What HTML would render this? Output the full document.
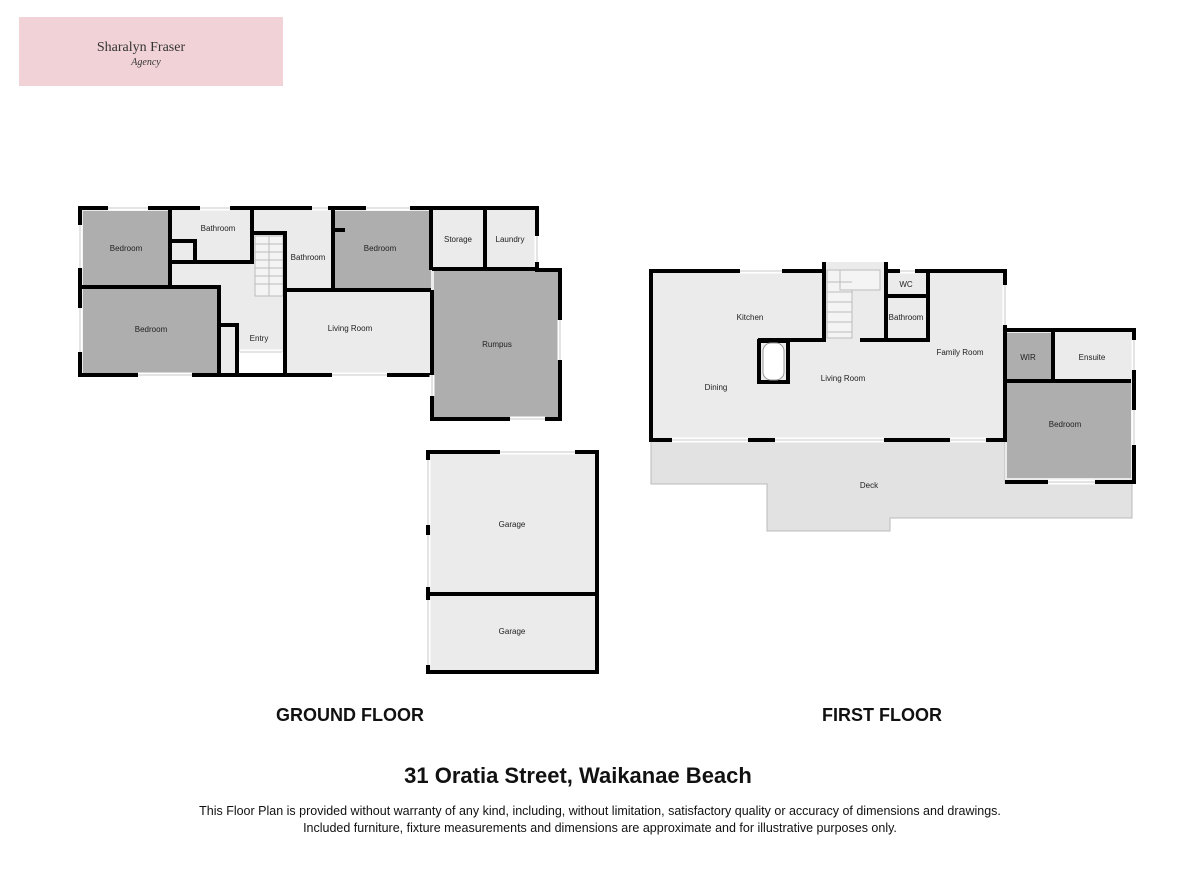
<!DOCTYPE html>
<html><head><meta charset="utf-8"><style>
html,body{margin:0;padding:0;background:#fff;width:1200px;height:873px;overflow:hidden}
svg{display:block}
.win{stroke:#fff;stroke-width:5}
.wl{stroke:#c8c8c8;stroke-width:1}
</style></head><body>
<svg width="1200" height="873" viewBox="0 0 1200 873" xmlns="http://www.w3.org/2000/svg" font-family="Liberation Sans, sans-serif">
<!-- logo -->
<rect x="19" y="17" width="264" height="69" fill="#f1d3d7"/>
<text x="141" y="51" font-family="Liberation Serif, serif" font-size="14" text-anchor="middle" fill="#333">Sharalyn Fraser</text>
<text x="146" y="65" font-family="Liberation Serif, serif" font-style="italic" font-size="10" text-anchor="middle" fill="#333">Agency</text>

<!-- GROUND FLOOR -->
<g>
<rect x="80" y="208" width="457" height="167" fill="#ebebeb"/>
<rect x="432" y="268" width="130" height="151" fill="#ebebeb"/>
<rect x="83" y="211" width="87" height="75" fill="#aeaeae"/>
<rect x="83" y="288" width="136" height="85" fill="#aeaeae"/>
<rect x="333" y="211" width="98" height="78" fill="#aeaeae"/>
<rect x="434" y="271" width="126" height="146" fill="#aeaeae"/>
<rect x="237" y="352" width="48" height="25" fill="#fff"/>
<g stroke="#bbb" stroke-width="1" fill="#f4f4f4">
<rect x="255" y="236" width="28" height="60"/>
<line x1="269" y1="236" x2="269" y2="296"/>
<line x1="255" y1="244" x2="283" y2="244"/><line x1="255" y1="252" x2="283" y2="252"/><line x1="255" y1="260" x2="283" y2="260"/><line x1="255" y1="268" x2="283" y2="268"/><line x1="255" y1="276" x2="283" y2="276"/><line x1="255" y1="284" x2="283" y2="284"/>
</g>
<g fill="none" stroke="#000" stroke-width="4">
<path d="M80,208 H537 V270 H560 V419 H432 V375 H80 Z"/>
<path d="M170,210 V286 M82,287 H219 V375 M219,325 H237 V375"/>
<path d="M170,262 H252 V210 M172,241 H195 V262"/>
<path d="M252,233 H285 V296 M285,290 H431 M333,210 V290 M333,211 V230 H345"/>
<path d="M431,210 V270 M432,269 H537 M485,210 V269"/>
<path d="M285,296 V375 M432,290 V419"/>
</g>
<g class="win">
<line x1="108" y1="208" x2="148" y2="208"/><line x1="200" y1="208" x2="230" y2="208"/><line x1="312" y1="208" x2="328" y2="208"/><line x1="366" y1="208" x2="410" y2="208"/>
<line x1="80" y1="225" x2="80" y2="268"/><line x1="80" y1="308" x2="80" y2="352"/>
<line x1="138" y1="375" x2="192" y2="375"/><line x1="332" y1="375" x2="387" y2="375"/><line x1="240" y1="352" x2="282" y2="352"/>
<line x1="537" y1="236" x2="537" y2="262"/><line x1="560" y1="320" x2="560" y2="360"/><line x1="510" y1="419" x2="545" y2="419"/><line x1="432" y1="375" x2="432" y2="396"/>
</g>
<g class="wl">
<line x1="108" y1="208" x2="148" y2="208"/><line x1="200" y1="208" x2="230" y2="208"/><line x1="312" y1="208" x2="328" y2="208"/><line x1="366" y1="208" x2="410" y2="208"/>
<line x1="80" y1="225" x2="80" y2="268"/><line x1="80" y1="308" x2="80" y2="352"/>
<line x1="138" y1="375" x2="192" y2="375"/><line x1="332" y1="375" x2="387" y2="375"/><line x1="240" y1="352" x2="282" y2="352"/>
<line x1="537" y1="236" x2="537" y2="262"/><line x1="560" y1="320" x2="560" y2="360"/><line x1="510" y1="419" x2="545" y2="419"/><line x1="432" y1="375" x2="432" y2="396"/>
</g>
<g font-size="8" text-anchor="middle" fill="#222">
<text x="126" y="251">Bedroom</text><text x="218" y="231">Bathroom</text><text x="308" y="260">Bathroom</text>
<text x="380" y="251">Bedroom</text><text x="458" y="242">Storage</text><text x="510" y="242">Laundry</text>
<text x="151" y="332">Bedroom</text><text x="259" y="341">Entry</text><text x="350" y="331">Living Room</text><text x="497" y="347">Rumpus</text>
</g>
</g>

<!-- GARAGE -->
<rect x="428" y="452" width="169" height="220" fill="#ebebeb"/>
<g fill="none" stroke="#000" stroke-width="4">
<path d="M428,452 H597 V672 H428 Z M428,594 H597"/>
</g>
<g class="win"><line x1="500" y1="452" x2="575" y2="452"/><line x1="428" y1="460" x2="428" y2="525"/><line x1="428" y1="535" x2="428" y2="587"/><line x1="428" y1="600" x2="428" y2="665"/></g>
<g class="wl"><line x1="500" y1="452" x2="575" y2="452"/><line x1="428" y1="460" x2="428" y2="525"/><line x1="428" y1="535" x2="428" y2="587"/><line x1="428" y1="600" x2="428" y2="665"/></g>
<g font-size="8" text-anchor="middle" fill="#222"><text x="512" y="527">Garage</text><text x="512" y="634">Garage</text></g>

<!-- FIRST FLOOR -->
<polygon points="651,440 1005,440 1005,482 1132,482 1132,518 890,518 890,531 767,531 767,484 651,484" fill="#e2e2e2" stroke="#bbb" stroke-width="1"/>
<rect x="651" y="271" width="354" height="169" fill="#ebebeb"/>
<rect x="824" y="262" width="62" height="78" fill="#ebebeb"/>
<rect x="1005" y="330" width="129" height="152" fill="#ebebeb"/>
<rect x="1007" y="333" width="46" height="48" fill="#aeaeae"/>
<rect x="1007" y="383" width="124" height="95" fill="#aeaeae"/>
<g stroke="#bbb" stroke-width="1" fill="#f4f4f4">
<rect x="827" y="270" width="25" height="68"/>
<rect x="840" y="270" width="40" height="20"/>
<line x1="827" y1="282" x2="852" y2="282"/><line x1="827" y1="292" x2="852" y2="292"/><line x1="827" y1="302" x2="852" y2="302"/><line x1="827" y1="312" x2="852" y2="312"/><line x1="827" y1="322" x2="852" y2="322"/><line x1="827" y1="332" x2="852" y2="332"/>
</g>
<g fill="none" stroke="#000" stroke-width="4">
<path d="M824,262 V271 H651 V440 H1005 V271 H886 V262"/>
<path d="M824,262 V340 H758 M886,262 V340 H860 M928,271 V340 H886 M886,296 H928"/>
<rect x="759" y="341" width="29" height="41"/>
<path d="M1005,330 H1134 V482 H1005 M1053,332 V381 M1007,381 H1131"/>
</g>
<rect x="763" y="343" width="21" height="37" rx="8" fill="#fff" stroke="#999" stroke-width="1"/>
<g class="win">
<line x1="740" y1="271" x2="782" y2="271"/><line x1="900" y1="271" x2="915" y2="271"/><line x1="1005" y1="285" x2="1005" y2="325"/>
<line x1="672" y1="440" x2="748" y2="440"/><line x1="775" y1="440" x2="884" y2="440"/><line x1="950" y1="440" x2="986" y2="440"/>
<line x1="1134" y1="340" x2="1134" y2="370"/><line x1="1134" y1="410" x2="1134" y2="445"/><line x1="1048" y1="482" x2="1095" y2="482"/>
</g>
<g class="wl">
<line x1="740" y1="271" x2="782" y2="271"/><line x1="900" y1="271" x2="915" y2="271"/><line x1="1005" y1="285" x2="1005" y2="325"/>
<line x1="672" y1="440" x2="748" y2="440"/><line x1="775" y1="440" x2="884" y2="440"/><line x1="950" y1="440" x2="986" y2="440"/>
<line x1="1134" y1="340" x2="1134" y2="370"/><line x1="1134" y1="410" x2="1134" y2="445"/><line x1="1048" y1="482" x2="1095" y2="482"/>
</g>
<g font-size="8" text-anchor="middle" fill="#222">
<text x="750" y="320">Kitchen</text><text x="906" y="287">WC</text><text x="906" y="320">Bathroom</text>
<text x="960" y="355">Family Room</text><text x="716" y="390">Dining</text><text x="843" y="381">Living Room</text>
<text x="1028" y="360">WIR</text><text x="1092" y="360">Ensuite</text><text x="1065" y="427">Bedroom</text><text x="869" y="488">Deck</text>
</g>

<!-- labels -->
<g font-weight="bold" text-anchor="middle" fill="#111">
<text x="350" y="721" font-size="18">GROUND FLOOR</text>
<text x="882" y="721" font-size="18">FIRST FLOOR</text>
<text x="578" y="783" font-size="22">31 Oratia Street, Waikanae Beach</text>
</g>
<g text-anchor="middle" fill="#111" font-size="12.5">
<text x="600" y="815">This Floor Plan is provided without warranty of any kind, including, without limitation, satisfactory quality or accuracy of dimensions and drawings.</text>
<text x="600" y="832">Included furniture, fixture measurements and dimensions are approximate and for illustrative purposes only.</text>
</g>
</svg>
</body></html>
